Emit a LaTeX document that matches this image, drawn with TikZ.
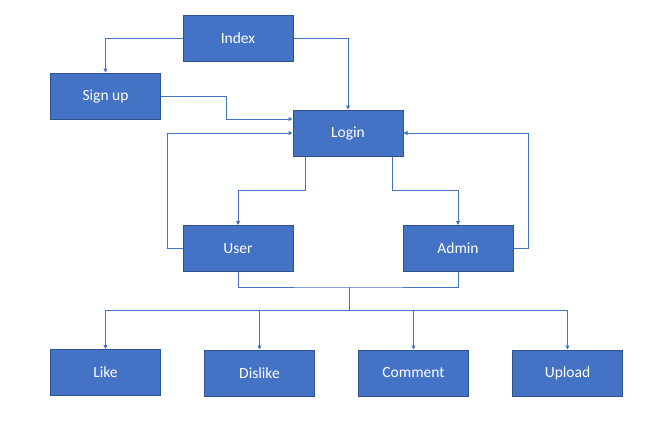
\documentclass[tikz,border=0pt]{standalone}
\usepackage{fontspec}
\setmainfont{Carlito}
\usetikzlibrary{arrows.meta,calc}
\definecolor{boxfill}{HTML}{4472C4}
\definecolor{boxline}{HTML}{2F528F}
\definecolor{conn}{HTML}{4472C4}
\begin{document}
\begin{tikzpicture}[x=1pt,y=-1pt,
  box/.style={draw=boxline,fill=boxfill,line width=1pt,minimum width=110pt,minimum height=46pt,
    inner sep=0pt,text=white,font=\fontsize{15.5}{17}\selectfont},
  link/.style={draw=conn,line width=1pt},
  arr/.style={link,-{Triangle[length=4pt,width=4pt]}}]
\useasboundingbox[fill=white] (0,0) rectangle (658,428);
\node[box] (index) at (238,38.5) {Index};
\node[box] (signup) at (105.5,96) {Sign up};
\node[box] (login) at (348,133) {Login};
\node[box] (user) at (238,248.5) {User};
\node[box] (admin) at (458,248.5) {Admin};
\node[box] (like) at (105.5,372.5) {Like};
\node[box] (dislike) at (259.5,373) {Dislike};
\node[box] (comment) at (413.5,373) {Comment};
\node[box] (upload) at (567.5,373) {Upload};
\coordinate (lin1) at ($(login.west)+(0,-14)$);
\coordinate (hub) at (349,287);
\coordinate (bus) at (349,310);
\draw[arr] (index.west) -| (signup.north);
\draw[arr] (index.east) -| (login.north);
\draw[arr] (signup.east) -| ($(lin1)+(-66,0)$) |- (lin1);
\draw[arr] (user.west) -- ++(-15,0) |- (login.west);
\draw[arr] (admin.east) -- ++(15,0) |- (login.east);
\draw[arr] ($(login.south)+(-43,0)$) -- ++(0,34) -| (user.north);
\draw[arr] ($(login.south)+(44,0)$) -- ++(0,34) -| (admin.north);
\draw[link] (user.south) |- (hub) -| (admin.south);
\draw[link] (hub) -- (bus);
\draw[arr] (bus) -| (like.north);
\draw[arr] (bus) -| (dislike.north);
\draw[arr] (bus) -| (comment.north);
\draw[arr] (bus) -| (upload.north);
\end{tikzpicture}
\end{document}
